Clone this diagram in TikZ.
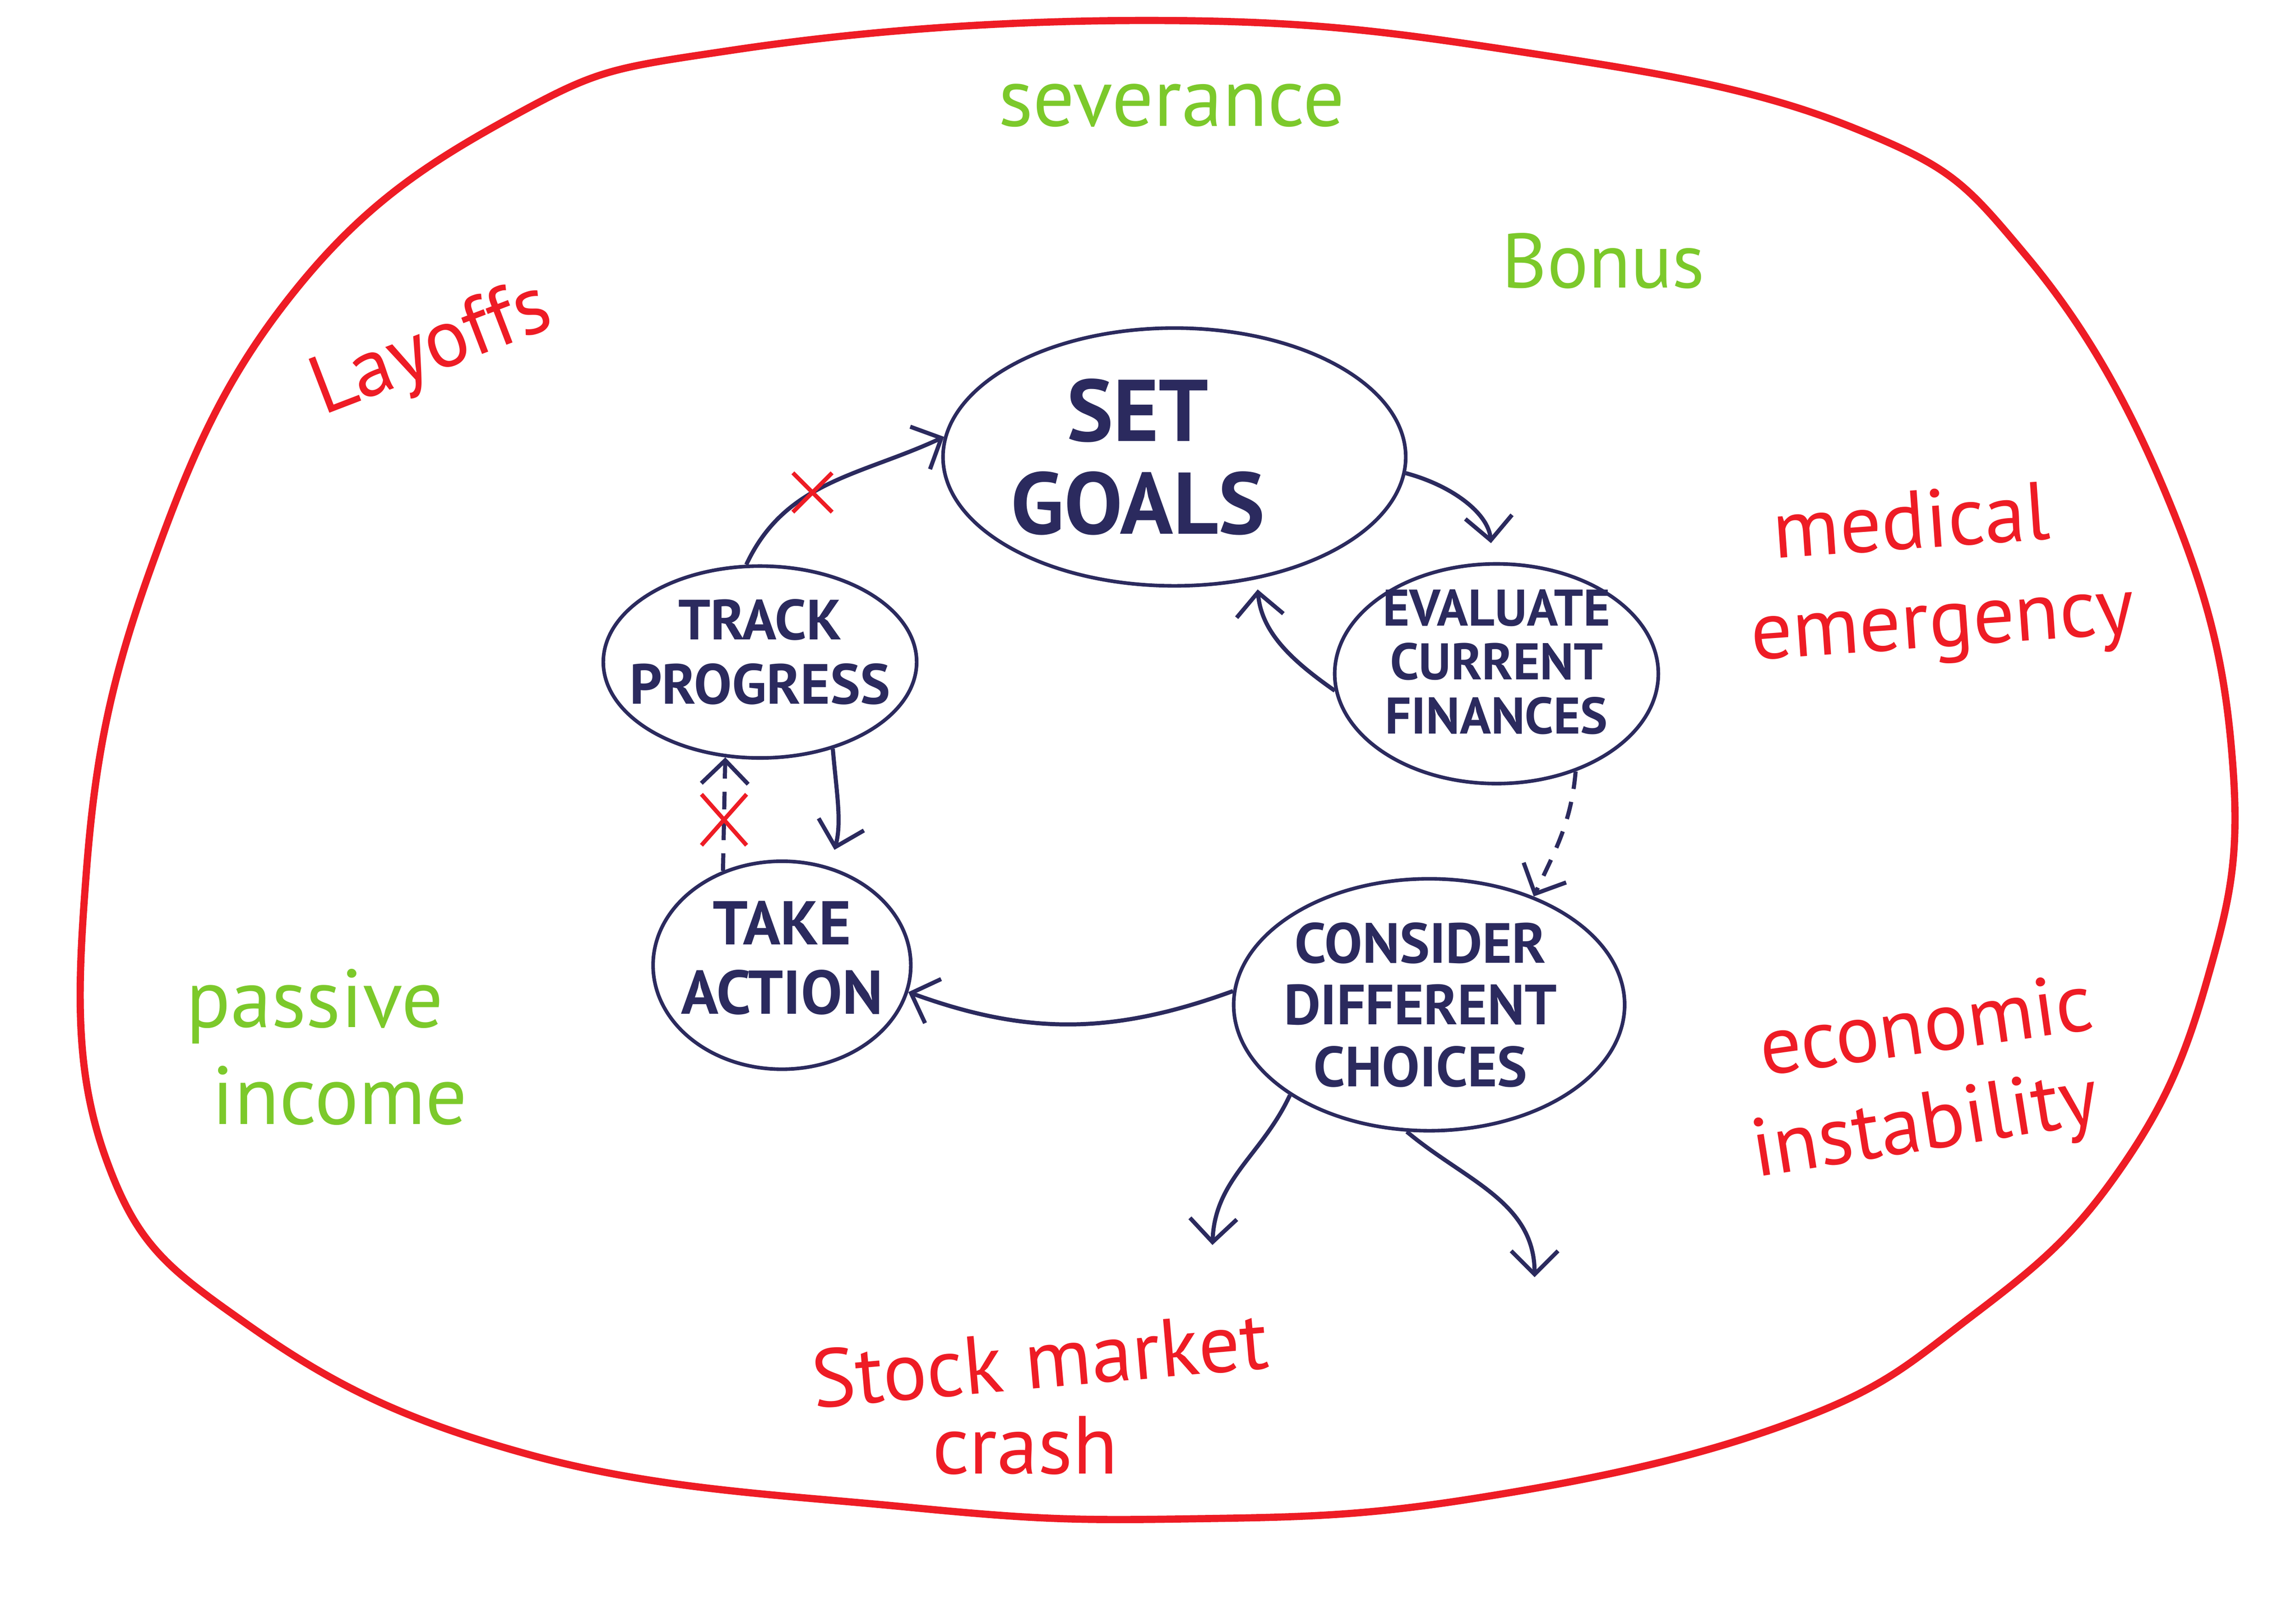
\documentclass[tikz,border=0pt]{standalone}
\usepackage{fontspec}
\setmainfont{PT Sans}
\usetikzlibrary{shapes.geometric,shapes.misc,arrows.meta}
\definecolor{ink}{HTML}{2B2A5E}
\definecolor{alarm}{HTML}{EE1C25}
\definecolor{grass}{HTML}{7CC92B}
\begin{document}
\begin{tikzpicture}[
  stage/.style={draw=ink, line width=0.7pt, ellipse, inner sep=0pt},
  stagetext/.style={text=ink, align=center, font=\bfseries\fontsize{11pt}{12.5pt}\selectfont},
  risk/.style={text=alarm, inner sep=1pt, font=\fontsize{16pt}{19pt}\selectfont},
  gain/.style={text=grass, inner sep=1pt, font=\fontsize{16pt}{19pt}\selectfont},
  flow/.style={draw=ink, line width=0.8pt, -{Straight Barb[length=1.6mm,width=3.2mm]}},
  maybe/.style={flow, dash pattern=on 1.2mm off 0.9mm},
  cut/.style={cross out, solid, draw=alarm, line width=0.8pt, minimum width=2.8mm, minimum height=3.2mm, inner sep=0pt}
]
\useasboundingbox (0, 0) rectangle (15.68, 10.95);

\draw [alarm, line width=1.4pt] plot [smooth cycle, tension=0.7] coordinates {
  (7.87, 10.81) (10.36, 10.60) (12.65, 10.08) (13.84, 9.20) (14.84, 7.46) (15.25, 5.70)
  (15.07, 4.25) (14.46, 2.94) (13.46, 1.96) (12.21, 1.23) (10.07, 0.72) (8.10, 0.58)
  (6.20, 0.66) (3.61, 1.02) (1.70, 1.90) (0.72, 3.05) (0.59, 5.00) (1.03, 7.07)
  (2.01, 8.96) (3.51, 10.16) (5.02, 10.61)};

\node [stage, minimum width=3.16cm, minimum height=1.76cm,
  label={[stagetext, xshift=-2.5mm, font=\bfseries\fontsize{17pt}{18pt}\selectfont]center:SET\\GOALS}] (goals) at (8.02, 7.83) {};
\node [stage, minimum width=2.21cm, minimum height=1.50cm,
  label={[stagetext, yshift=0.8mm, font=\bfseries\fontsize{10pt}{10.5pt}\selectfont]center:EVALUATE\\CURRENT\\FINANCES}] (evaluate) at (10.22, 6.35) {};
\node [stage, minimum width=2.14cm, minimum height=1.31cm,
  label={[stagetext, yshift=0.7mm]center:TRACK\\PROGRESS}] (track) at (5.19, 6.43) {};
\node [stage, minimum width=1.76cm, minimum height=1.42cm,
  label={[stagetext, yshift=0.5mm, font=\bfseries\fontsize{12pt}{13.5pt}\selectfont]center:TAKE\\ACTION}] (take) at (5.34, 4.36) {};
\node [stage, minimum width=2.67cm, minimum height=1.72cm,
  label={[stagetext, xshift=-0.6mm, font=\bfseries\fontsize{11pt}{12pt}\selectfont]center:CONSIDER\\DIFFERENT\\CHOICES}] (consider) at (9.76, 4.09) {};

\coordinate (optionA) at (8.28, 2.45);
\coordinate (optionB) at (10.48, 2.23);

\draw [flow, shorten >=1.3mm] (goals.-4) to [out=-15, in=95] (evaluate.92);
\draw [flow, shorten >=0.7mm] (evaluate.186) to [out=145, in=-85] (goals.-56);
\draw [maybe] (evaluate.-51) to [out=-95, in=65] (consider.46);
\draw [flow] (consider.176) to [out=200, in=-20] (take.-12);
\draw [flow, shorten >=1.2mm] (track.-50) to [out=-85, in=75] (take.64);
\draw [maybe] (take.122) -- node [cut, pos=0.45] (cutlow) {} (track.-110);
\draw [flow] (track.98) to [out=65, in=205] node [cut, pos=0.42, minimum width=2.4mm, minimum height=2.4mm] (cuthigh) {} (goals.175);
\draw [flow] (consider.213) to [out=-115, in=88] (optionA);
\draw [flow] (consider.-100) to [out=-40, in=90] (optionB);

\node [gain] (severance) at (8.0, 10.23) {severance};
\node [gain, font=\fontsize{15pt}{18pt}\selectfont] (bonus) at (10.95, 9.17) {Bonus};
\node [risk, rotate=21] (layoffs) at (2.95, 8.55) {Layoffs};
\node [risk, rotate=4] (medical) at (13.05, 7.40) {medical};
\node [risk, rotate=4] (emergency) at (13.27, 6.62) {emergency};
\node [gain] (passive) at (2.15, 4.08) {passive};
\node [gain] (income) at (2.32, 3.47) {income};
\node [risk, rotate=8] (economic) at (13.15, 3.96) {economic};
\node [risk, rotate=9] (instability) at (13.15, 3.24) {instability};
\node [risk, rotate=5] (stock) at (7.10, 1.67) {Stock market};
\node [risk] (crash) at (7.00, 1.08) {crash};
\end{tikzpicture}
\end{document}
